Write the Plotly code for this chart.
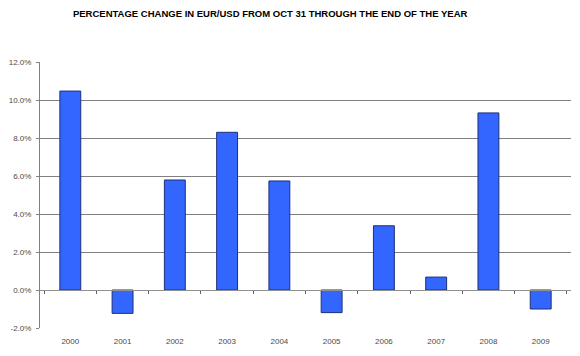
import plotly.graph_objects as go

years = ["2000", "2001", "2002", "2003", "2004", "2005", "2006", "2007", "2008", "2009"]
pct_change = [10.47, -1.23, 5.79, 8.30, 5.74, -1.19, 3.38, 0.68, 9.32, -1.00]
y_ticks = [-2, 0, 2, 4, 6, 8, 10, 12]
y_tick_labels = ["-2.0%", "0.0%", "2.0%", "4.0%", "6.0%", "8.0%", "10.0%", "12.0%"]

fig = go.Figure()
fig.add_trace(go.Bar(
    x=years, y=pct_change,
    marker=dict(color="#3366FF", line=dict(color="#1F2F7A", width=1)),
    width=0.4, showlegend=False, hoverinfo="skip",
))
# invisible trace for the zero-line axis carrying boundary ticks
fig.add_trace(go.Scatter(x=years, y=[0] * len(years), xaxis="x2", mode="markers",
                         marker=dict(opacity=0), showlegend=False, hoverinfo="skip"))

font = "Liberation Sans, Arial, sans-serif"
fig.update_layout(
    width=580, height=356,
    margin=dict(l=32, r=17, t=54, b=36),
    paper_bgcolor="white", plot_bgcolor="white",
    title=dict(text="<b>PERCENTAGE CHANGE IN EUR/USD FROM OCT 31 THROUGH THE END OF THE YEAR</b>",
               x=0.452, xanchor="center", y=0.985, yanchor="middle",
               font=dict(family=font, size=9.5, color="black")),
    xaxis=dict(type="category", showline=False, showgrid=False, ticks="", automargin=False,
               ticklabelstandoff=7,
               tickfont=dict(family=font, size=8, color="#4a4a4a"), zeroline=False),
    xaxis2=dict(type="category", overlaying="x", matches="x", anchor="free", position=2 / 14,
                side="bottom", showline=True, linecolor="#909090", linewidth=1, automargin=False,
                ticks="outside", tickson="boundaries", ticklen=3, tickcolor="#606060",
                showticklabels=False, showgrid=False),
    yaxis=dict(range=[-2, 12], tickvals=y_ticks, ticktext=y_tick_labels, automargin=False,
               showgrid=True, gridcolor="#808080", gridwidth=1,
               showline=True, linecolor="#808080", linewidth=1,
               ticks="outside", ticklen=3, tickcolor="#808080",
               zeroline=False, ticklabelstandoff=3,
               tickfont=dict(family=font, size=8, color="#4a4a4a")),
    bargap=0.6,
)

fig.write_html("out.html")
